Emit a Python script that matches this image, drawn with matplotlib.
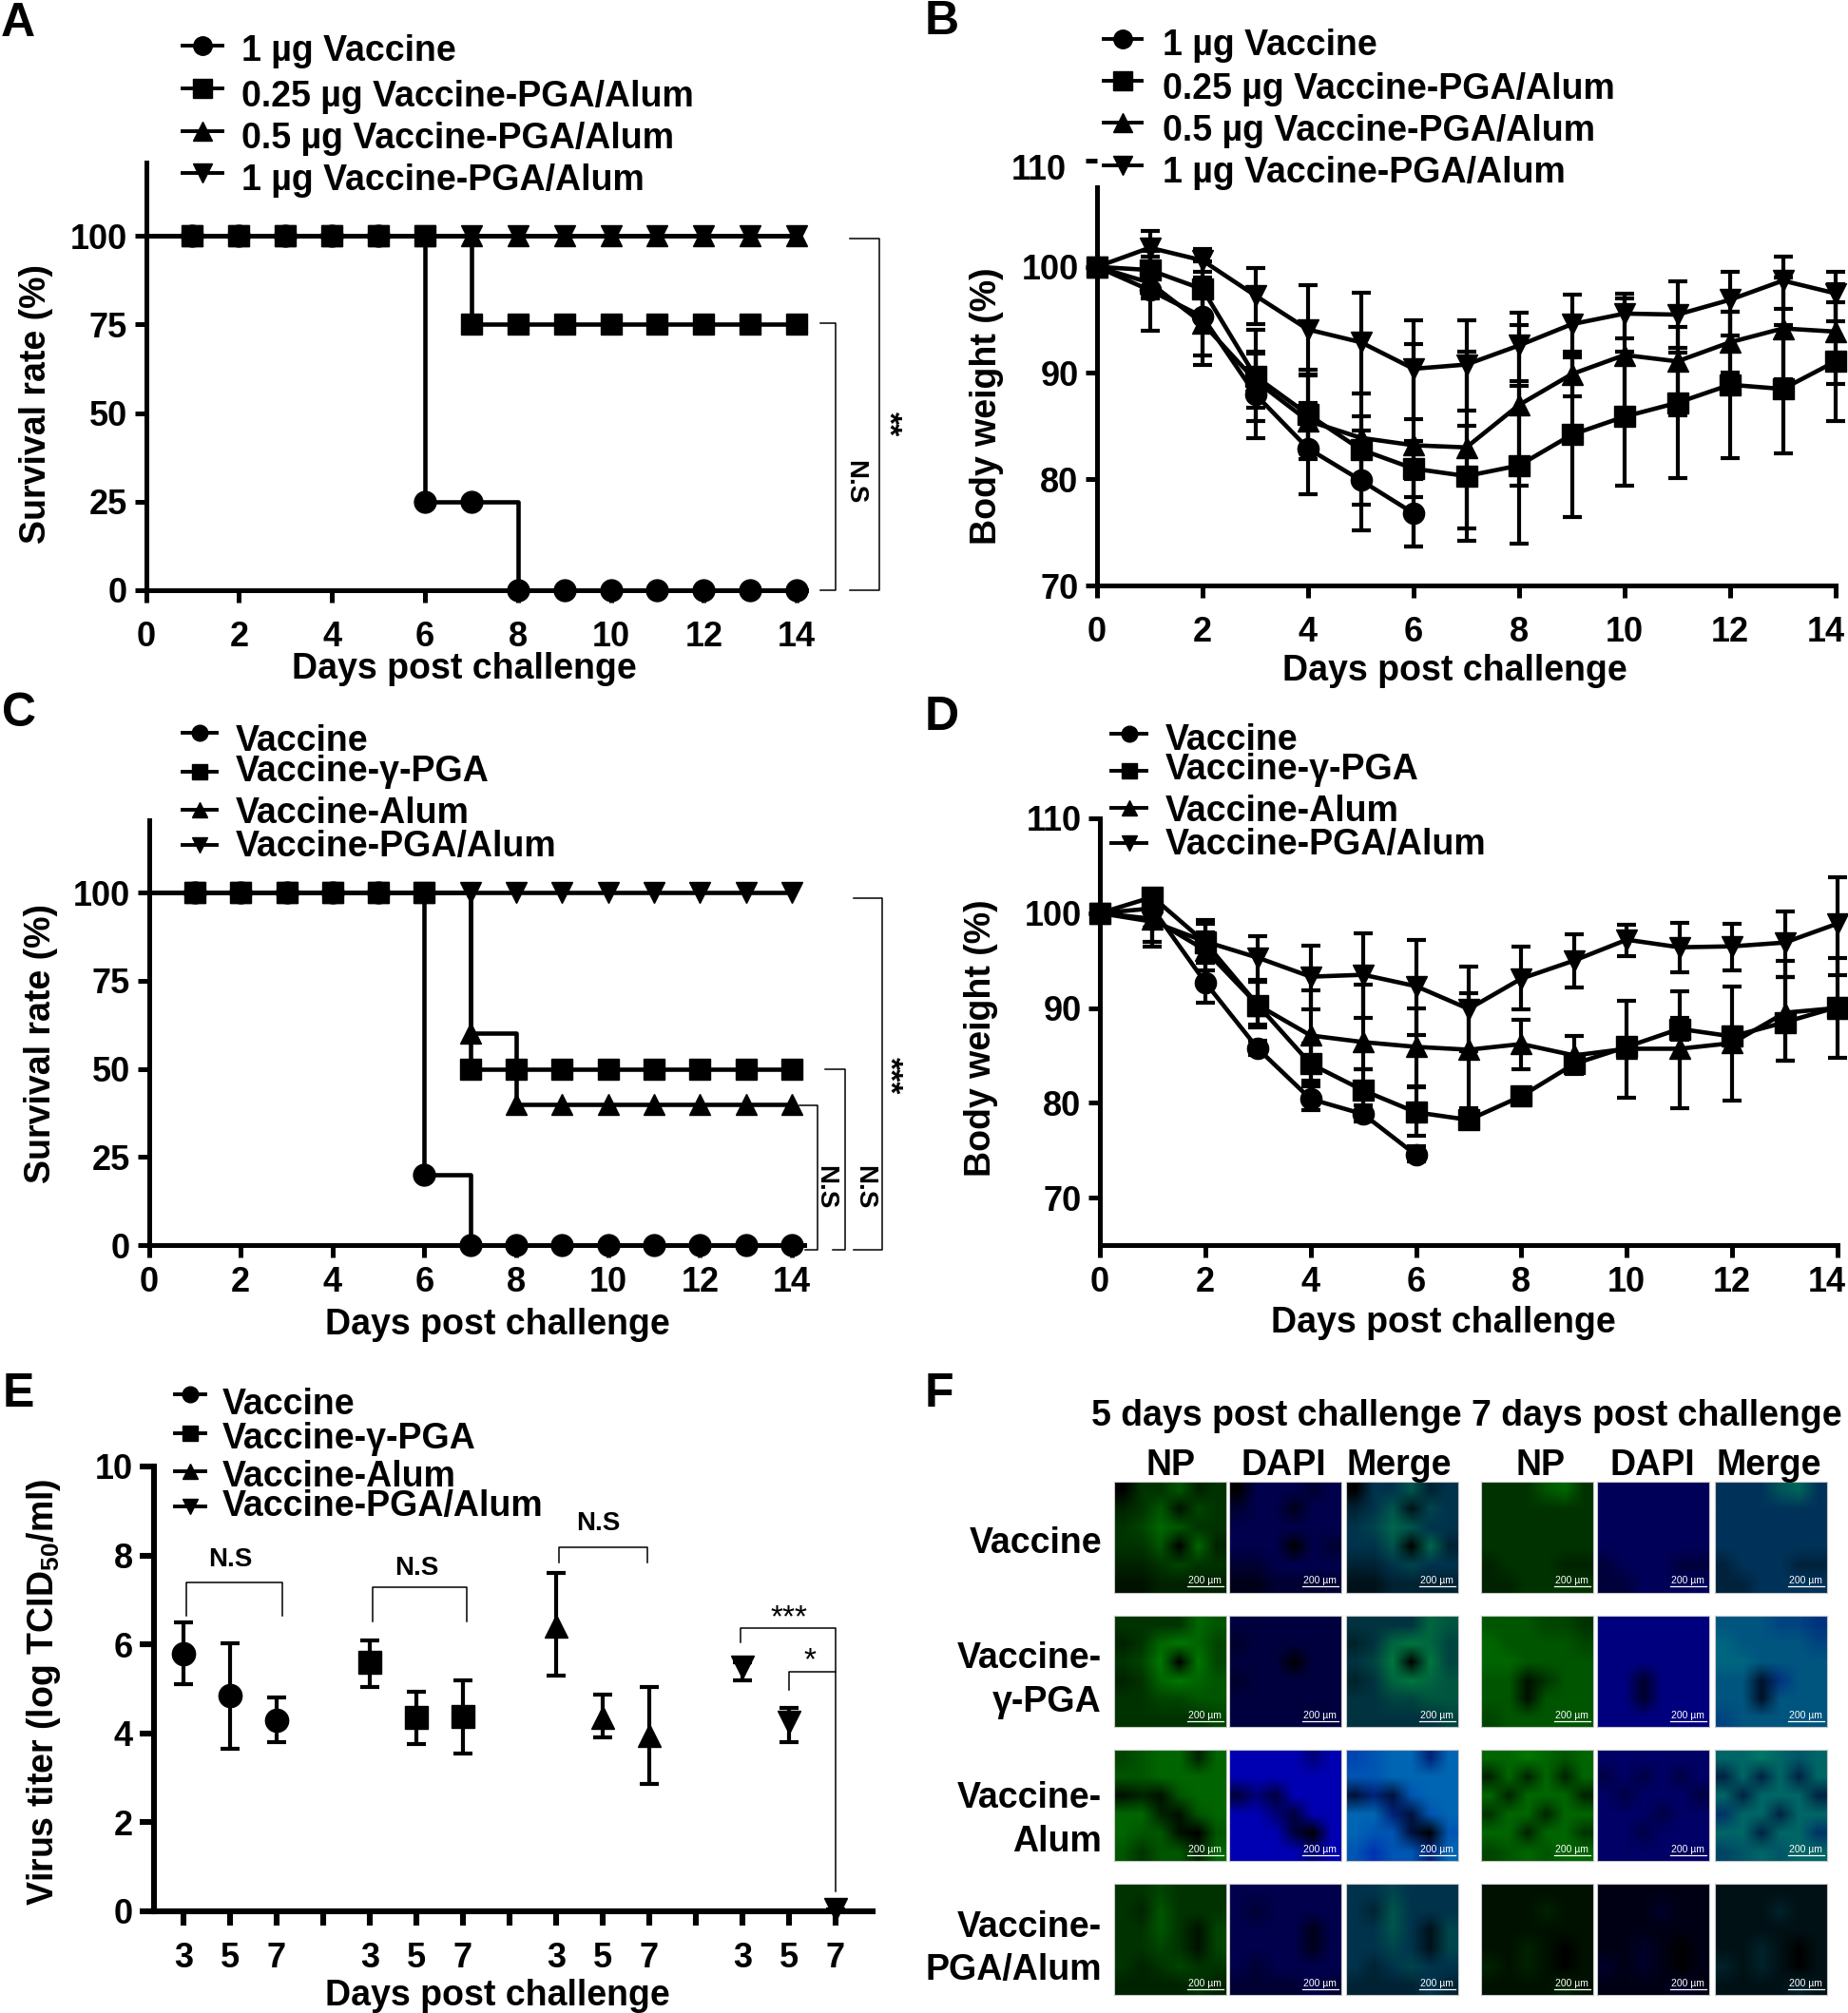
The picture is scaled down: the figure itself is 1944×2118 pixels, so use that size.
import numpy as np
from matplotlib import pyplot as plt
from matplotlib.lines import Line2D
from matplotlib.transforms import ScaledTranslation

plt.rcParams['font.family'] = ['Liberation Sans', 'DejaVu Sans']
plt.rcParams['font.weight'] = 'bold'
plt.rcParams['mathtext.fontset'] = 'custom'
plt.rcParams['mathtext.rm'] = 'Liberation Sans:bold'

W, H = 1944, 2118
DPI = 100

days = list(range(15))
days_short = list(range(7))

# A - survival, dose series
a_labels = ['1 µg Vaccine', '0.25 µg Vaccine-PGA/Alum', '0.5 µg Vaccine-PGA/Alum', '1 µg Vaccine-PGA/Alum']
a_vaccine = [100, 100, 100, 100, 100, 100, 25, 25, 0, 0, 0, 0, 0, 0, 0]
a_low = [100, 100, 100, 100, 100, 100, 100, 75, 75, 75, 75, 75, 75, 75, 75]
a_mid = [100] * 15
a_high = [100] * 15

# B - body weight, dose series
b_vaccine = [100, 97.8, 95.3, 88, 82.9, 79.9, 76.8]
b_vaccine_lo = [100, 94, 90.8, 83.9, 78.6, 75.2, 73.7]
b_vaccine_hi = [100, 101, 99, 92, 87.2, 84.6, 80]
b_low = [100, 99.7, 97.9, 89.7, 86.1, 82.8, 81, 80.3, 81.3, 84.2, 85.9, 87.2, 88.9, 88.5, 91.1]
b_low_lo = [100, 97.9, 95, 85.5, 82.4, 77.6, 78.3, 74.2, 73.9, 76.4, 79.4, 80.1, 82, 82.4, 85.5]
b_low_hi = [100, 101.5, 100.5, 94.1, 89.8, 85.9, 83.6, 85, 88.8, 91.8, 92, 91.9, 95.8, 94.5, 96.7]
b_mid = [100, 98.5, 94.7, 89.3, 85.5, 83.9, 83.2, 83, 87, 89.9, 91.7, 91.1, 92.9, 94.2, 93.9]
b_mid_lo = [100, 97, 91.7, 86.7, 81.9, 79.7, 73.7, 75.4, 79.4, 87.8, 86, 86, 90, 89.4, 89]
b_mid_hi = [100, 100, 97.7, 91.8, 90.3, 88.1, 92.7, 92, 94.5, 92, 97, 94.3, 95.8, 99, 98.4]
b_high = [100, 101.8, 100.6, 97.3, 94.1, 92.9, 90.4, 90.8, 92.6, 94.6, 95.6, 95.5, 96.9, 98.7, 97.5]
b_high_lo = [100, 100, 99.5, 94.6, 89.9, 88.1, 85.7, 86.5, 89.2, 91.5, 93.3, 92.4, 93.5, 96, 94.9]
b_high_hi = [100, 103.4, 101.7, 99.9, 98.3, 97.6, 95, 95, 95.7, 97.4, 97.5, 98.6, 99.5, 101, 99.5]

# C - survival, formulation series
c_labels = ['Vaccine', 'Vaccine-γ-PGA', 'Vaccine-Alum', 'Vaccine-PGA/Alum']
c_vaccine = [100, 100, 100, 100, 100, 100, 20, 0, 0, 0, 0, 0, 0, 0, 0]
c_pga = [100, 100, 100, 100, 100, 100, 100, 50, 50, 50, 50, 50, 50, 50, 50]
c_alum = [100, 100, 100, 100, 100, 100, 100, 60, 40, 40, 40, 40, 40, 40, 40]
c_both = [100] * 15

# D - body weight, formulation series
d_vaccine = [100, 100.5, 92.7, 85.7, 80.4, 78.8, 74.5]
d_vaccine_lo = [100, 96.5, 90.6, 85, 79.2, 78, 73.8]
d_vaccine_hi = [100, 102, 94.8, 86.5, 81.7, 79.7, 75.4]
d_pga = [100, 101.7, 96.9, 90.3, 84.1, 81.3, 79, 78.2, 80.7, 84.1, 85.9, 87.8, 87, 88.5, 90.1]
d_pga_lo = [100, 100.5, 95, 88, 82, 79.2, 76.5, 77.5, 80.2, 83.3, 85.2, 86.6, 86, 84.4, 89]
d_pga_hi = [100, 102.2, 98.9, 92.8, 86.2, 83.5, 81.7, 79.1, 81, 85, 86.5, 89, 88, 93.3, 91]
d_alum = [100, 99.4, 96.1, 90.3, 87.1, 86.4, 85.9, 85.6, 86.2, 85, 85.7, 85.7, 86.3, 89.5, 90]
d_alum_lo = [100, 98.5, 94, 88.3, 82.3, 83.5, 81.6, 79.4, 83.5, 83, 80.5, 79.4, 80.2, 84.4, 84.7]
d_alum_hi = [100, 100.3, 98, 93, 91.9, 92.5, 90, 91.6, 88.8, 87, 90.8, 91.8, 92.3, 95, 95.3]
d_both = [100, 99.1, 97, 95.3, 93.3, 93.5, 92.3, 89.9, 93.1, 95, 97.2, 96.4, 96.5, 96.9, 98.9]
d_both_lo = [100, 97, 94.8, 92.8, 89.9, 89, 87.1, 85.4, 89.9, 92.2, 95.5, 93.8, 94, 93.3, 93.5]
d_both_hi = [100, 101, 99.3, 97.6, 96.6, 97.9, 97.2, 94.4, 96.5, 97.8, 98.8, 99, 98.9, 100.2, 103.8]

# E - virus titer, days 3/5/7 per group
e_slots = [[0, 1, 2], [4, 5, 6], [8, 9, 10], [12, 13, 14]]
e_values = [[5.8, 4.85, 4.3], [5.6, 4.35, 4.37], [6.4, 4.35, 3.95], [5.5, 4.25, 0.05]]
e_lower = [[5.1, 3.65, 3.8], [5.05, 3.77, 3.55], [5.3, 3.9, 2.87], [5.2, 3.8, 0.05]]
e_upper = [[6.5, 6.03, 4.8], [6.1, 4.93, 5.2], [7.6, 4.88, 5.05], [5.6, 4.57, 0.05]]
e_ticklabels = ['3', '5', '7', '', '3', '5', '7', '', '3', '5', '7', '', '3', '5', '7']

# F - micrographs can't be re-read as data, so coarse green brightness by hand (0-9) and blue level
f_rows = ['Vaccine', 'Vaccine-\nγ-PGA', 'Vaccine-\nAlum', 'Vaccine-\nPGA/Alum']
f_channels = ['NP', 'DAPI', 'Merge']
f_green = {
    (0, 0): [[0, 3, 3, 5, 2, 3], [2, 3, 5, 1, 4, 3], [3, 4, 6, 5, 3, 3], [3, 3, 5, 0, 6, 2], [2, 2, 3, 4, 3, 3], [1, 1, 2, 2, 2, 2]],
    (0, 1): [[3, 3, 3, 5, 6, 3], [3, 3, 3, 3, 3, 3], [3, 3, 3, 3, 3, 3], [3, 3, 3, 3, 3, 3], [2, 3, 3, 3, 2, 2], [2, 2, 3, 3, 3, 3]],
    (1, 0): [[3, 3, 3, 3, 6, 5], [2, 3, 6, 7, 6, 4], [3, 4, 7, 0, 7, 4], [2, 3, 6, 7, 6, 5], [3, 3, 4, 4, 5, 5], [3, 3, 3, 3, 3, 4]],
    (1, 1): [[5, 5, 5, 4, 4, 3], [6, 5, 5, 5, 5, 4], [6, 6, 5, 5, 5, 5], [5, 5, 1, 3, 5, 5], [5, 5, 1, 5, 5, 5], [4, 5, 5, 5, 5, 5]],
    (2, 0): [[4, 5, 6, 6, 2, 6], [5, 5, 6, 6, 6, 6], [1, 2, 1, 5, 6, 6], [6, 6, 2, 1, 5, 6], [6, 5, 5, 1, 0, 5], [5, 3, 5, 5, 2, 6]],
    (2, 1): [[6, 6, 7, 6, 5, 6], [2, 6, 2, 6, 2, 6], [6, 2, 6, 6, 6, 2], [3, 6, 6, 2, 6, 6], [6, 6, 2, 6, 6, 3], [4, 5, 6, 5, 6, 6]],
    (3, 0): [[3, 3, 4, 3, 3, 3], [3, 2, 5, 3, 3, 3], [3, 3, 5, 3, 1, 4], [3, 3, 4, 3, 1, 4], [3, 2, 3, 4, 3, 3], [2, 2, 2, 2, 3, 2]],
    (3, 1): [[1, 1, 1, 1, 1, 1], [1, 1, 1, 2, 1, 1], [1, 1, 1, 1, 1, 1], [1, 1, 2, 1, 0, 1], [2, 1, 2, 1, 0, 1], [1, 1, 1, 1, 2, 1]],
}
f_blue = {(0, 0): 0.3, (0, 1): 0.35, (1, 0): 0.25, (1, 1): 0.5, (2, 0): 0.7, (2, 1): 0.4, (3, 0): 0.3, (3, 1): 0.25}

fig = plt.figure(figsize=(W / DPI, H / DPI), dpi=DPI)


def px_axes(left, top, right, bottom):
    return fig.add_axes([left / W, 1 - bottom / H, (right - left) / W, (bottom - top) / H])


def px_text(x, y, s, size=27, ha='left', rotation=0, weight='bold', color='black'):
    # va=center counts the descender, nudge horizontal text down a bit
    if rotation == 0 and size < 30:
        y = y + 3.5
    fig.text(x / W, 1 - y / H, s, fontsize=size, ha=ha, va='center', rotation=rotation,
             fontweight=weight, color=color)


def legend_rows(handle_x0, handle_x1, handle_ys, text_x, text_ys, labels, ms=14, size=27):
    markers = ['o', 's', '^', 'v']
    for hy, ty, label, m in zip(handle_ys, text_ys, labels, markers):
        fig.add_artist(Line2D([handle_x0 / W, handle_x1 / W], [1 - hy / H, 1 - hy / H], color='black', lw=2.8))
        fig.add_artist(Line2D([(handle_x0 + handle_x1) / 2 / W], [1 - hy / H], color='black', marker=m, ms=ms))
        px_text(text_x, ty, label, size=size)


def style_axes(ax, pad, length=9, width=3.6):
    ax.spines['top'].set_visible(False)
    ax.spines['right'].set_visible(False)
    ax.spines['left'].set_linewidth(width)
    ax.spines['bottom'].set_linewidth(width)
    ax.tick_params(axis='both', length=length, width=width, labelsize=26)
    ax.tick_params(axis='x', pad=pad)
    ax.tick_params(axis='y', pad=5)
    ax.patch.set_alpha(0)


def survival_line(ax, values, marker, ms=16.5):
    ax.plot(days, values, color='black', lw=3.3, drawstyle='steps-post', marker=marker, ms=ms,
            markevery=slice(1, None), clip_on=False)


def weight_line(ax, x, values, lower, upper, marker, ms=16):
    values = np.array(values)
    yerr = [values - np.array(lower), np.array(upper) - values]
    ax.errorbar(x, values, yerr=yerr, color='black', lw=3.3, marker=marker, ms=ms,
                elinewidth=3, capsize=7.5, capthick=3, clip_on=False)


def bracket(ax, xs, ys):
    ax.plot(xs, ys, color='black', lw=1.1, clip_on=False)


def shift_last_xlabel(ax, points):
    # the last day label sits left of its tick, otherwise it runs off the page
    fig.canvas.draw()
    lab = ax.get_xticklabels()[-1]
    lab.set_transform(lab.get_transform() + ScaledTranslation(-points / 72, 0, fig.dpi_scale_trans))


# A
ax = px_axes(153.5, 171, 848, 621)
style_axes(ax, pad=14)
survival_line(ax, a_vaccine, 'o')
survival_line(ax, a_mid, '^')
survival_line(ax, a_high, 'v')
survival_line(ax, a_low, 's')
ax.set_xlim(0, 14.2)
ax.set_ylim(0, 120.7)
ax.set_xticks(range(0, 15, 2))
ax.set_yticks([0, 25, 50, 75, 100])
bracket(ax, [15.15, 15.77, 15.77, 15.15], [99.3, 99.3, 0, 0])
bracket(ax, [14.5, 14.83, 14.83, 14.5], [75.5, 75.5, 0, 0])
ax.text(15.24, 30.6, 'N.S', rotation=-90, ha='center', va='center', fontsize=20)
ax.text(15.95, 47, '**', rotation=-90, ha='center', va='center', fontsize=24)
legend_rows(192, 234, [48, 93, 138, 182], 254, [50, 98, 143, 187], a_labels)
px_text(488, 700, 'Days post challenge', ha='center')
px_text(38, 425, 'Survival rate (%)', ha='center', rotation=90)
px_text(1, 25, 'A', size=36)

# B
ax = px_axes(1154, 169, 1931, 616)
style_axes(ax, pad=14)
ax.spines['left'].set_bounds(70, 107.5)
weight_line(ax, days_short, b_vaccine, b_vaccine_lo, b_vaccine_hi, 'o')
weight_line(ax, days, b_low, b_low_lo, b_low_hi, 's')
weight_line(ax, days, b_mid, b_mid_lo, b_mid_hi, '^')
weight_line(ax, days, b_high, b_high_lo, b_high_hi, 'v')
ax.set_xlim(0, 14)
ax.set_ylim(70, 110)
ax.set_xticks(range(0, 15, 2))
ax.set_yticks([70, 80, 90, 100, 110])
ax.set_yticklabels(['70', '80', '90', '100', ''])
shift_last_xlabel(ax, 7)
px_text(1122, 176, '110', ha='right', size=26)
legend_rows(1161, 1201, [41, 85, 128.5, 173.5], 1223, [44, 90, 135, 179], a_labels)
px_text(1530, 702, 'Days post challenge', ha='center')
px_text(1038, 427, 'Body weight (%)', ha='center', rotation=90)
px_text(973, 23, 'B', size=36)

# C
ax = px_axes(156.6, 863, 846, 1310)
style_axes(ax, pad=7)
survival_line(ax, c_vaccine, 'o')
survival_line(ax, c_both, 'v')
survival_line(ax, c_alum, '^')
survival_line(ax, c_pga, 's')
ax.set_xlim(0, 14.27)
ax.set_ylim(0, 120.5)
ax.set_xticks(range(0, 15, 2))
ax.set_yticks([0, 25, 50, 75, 100])
bracket(ax, [15.34, 15.96, 15.96, 15.34], [98.4, 98.4, -1.3, -1.3])
bracket(ax, [14.73, 15.15, 15.15, 14.9], [50, 50, -1.3, -1.3])
bracket(ax, [14.17, 14.55, 14.55, 14.3], [39.7, 39.7, -1.3, -1.3])
ax.text(14.72, 16.4, 'N.S', rotation=-90, ha='center', va='center', fontsize=20)
ax.text(15.58, 16.4, 'N.S', rotation=-90, ha='center', va='center', fontsize=20)
ax.text(16.1, 48, '***', rotation=-90, ha='center', va='center', fontsize=24)
legend_rows(192, 228, [771, 811.5, 852, 889], 247.5, [777, 808, 852, 887], c_labels, ms=12)
px_text(523, 1390, 'Days post challenge', ha='center')
px_text(43, 1098, 'Survival rate (%)', ha='center', rotation=90)
px_text(2, 751, 'C', size=36)

# D
ax = px_axes(1157, 861, 1933, 1310)
style_axes(ax, pad=7)
weight_line(ax, days_short, d_vaccine, d_vaccine_lo, d_vaccine_hi, 'o')
weight_line(ax, days, d_alum, d_alum_lo, d_alum_hi, '^')
weight_line(ax, days, d_both, d_both_lo, d_both_hi, 'v')
weight_line(ax, days, d_pga, d_pga_lo, d_pga_hi, 's')
ax.set_xlim(0, 14)
ax.set_ylim(65, 110)
ax.set_xticks(range(0, 15, 2))
ax.set_yticks([70, 80, 90, 100, 110])
shift_last_xlabel(ax, 8)
legend_rows(1169, 1206, [772, 811, 850, 887], 1226, [775.5, 806, 850.5, 886], c_labels, ms=12)
px_text(1518, 1388, 'Days post challenge', ha='center')
px_text(1032, 1092, 'Body weight (%)', ha='center', rotation=90)
px_text(973, 755, 'D', size=36)

# E
ax = px_axes(162, 1543, 918, 2011)
style_axes(ax, pad=12, length=11, width=4.4)
for slots, vals, lo, hi, m in zip(e_slots, e_values, e_lower, e_upper, ['o', 's', '^', 'v']):
    vals = np.array(vals)
    yerr = [vals - np.array(lo), np.array(hi) - vals]
    ax.errorbar(slots, vals, yerr=yerr, color='black', ls='none', marker=m, ms=17.5, elinewidth=3,
                capsize=7, capthick=3, clip_on=False)
ax.set_xlim(-0.63, 14.8)
ax.set_ylim(0, 10)
ax.set_xticks(range(15))
ax.set_xticklabels(e_ticklabels)
ax.set_yticks([0, 2, 4, 6, 8, 10])
bracket(ax, [0.06, 0.06, 2.12, 2.12], [6.65, 7.4, 7.4, 6.65])
bracket(ax, [4.06, 4.06, 6.09, 6.09], [6.51, 7.28, 7.28, 6.51])
bracket(ax, [8.06, 8.06, 9.96, 9.96], [7.85, 8.18, 8.18, 7.85])
bracket(ax, [11.97, 11.97, 14, 14], [6.05, 6.37, 6.37, 0.44])
bracket(ax, [13, 13, 14], [4.97, 5.39, 5.39])
ax.text(1.0, 7.63, 'N.S', ha='center', va='bottom', fontsize=20)
ax.text(5.0, 7.43, 'N.S', ha='center', va='bottom', fontsize=20)
ax.text(8.9, 8.43, 'N.S', ha='center', va='bottom', fontsize=20)
ax.text(13, 6.25, '***', ha='center', va='bottom', fontsize=24, fontweight='normal')
ax.text(13.45, 5.3, '*', ha='center', va='bottom', fontsize=24, fontweight='normal')
legend_rows(184, 216, [1467, 1508, 1548, 1585], 234, [1474, 1510, 1550, 1582], c_labels, ms=12)
px_text(523.6, 2097, 'Days post challenge', ha='center')
px_text(46, 1780, r'Virus titer (log TCID$_{\mathregular{50}}$/ml)', ha='center', rotation=90)
px_text(3, 1467, 'E', size=36)

# F
col_edges = [(1172, 1290), (1293, 1411), (1416, 1534), (1558, 1676), (1680, 1798), (1804, 1922)]
row_edges = [(1558.6, 1675.7), (1700, 1817), (1841, 1958), (1981.6, 2099)]
for r, (top, bottom) in enumerate(row_edges):
    for c, (left, right) in enumerate(col_edges):
        t = c // 3
        channel = c % 3
        green = np.array(f_green[(r, t)]) / 9 * 0.6
        tissue = np.clip(np.array(f_green[(r, t)]) / 3, 0, 1)
        blue = tissue * f_blue[(r, t)]
        rgb = np.zeros(green.shape + (3,))
        if channel != 1:
            rgb[..., 1] = green
        if channel != 0:
            rgb[..., 2] = blue
        ax = px_axes(left, top, right, bottom)
        ax.imshow(rgb, aspect='auto', interpolation='bilinear', extent=[0, 1, 0, 1])
        ax.set_xticks([])
        ax.set_yticks([])
        for sp in ax.spines.values():
            sp.set_edgecolor('#c8c8c8')
            sp.set_linewidth(0.8)
        ax.plot([0.654, 0.972], [0.055, 0.055], color='white', lw=0.9)
        ax.text(0.81, 0.105, '200 µm', color='white', fontsize=7.5, fontweight='normal', ha='center', va='center')
        ax.set_xlim(0, 1)
        ax.set_ylim(0, 1)

px_text(1343, 1487, '5 days post challenge', ha='center')
px_text(1743, 1487, '7 days post challenge', ha='center')
for x, label in zip([1231, 1350, 1472, 1620, 1738, 1861], f_channels * 2):
    px_text(x, 1538, label, ha='center')
row_label_ys = [[1621], [1741.5, 1787.6], [1889, 1935], [2024, 2069]]
for label, ys in zip(f_rows, row_label_ys):
    for line, y in zip(label.split('\n'), ys):
        px_text(1159, y, line, ha='right')
px_text(973, 1467, 'F', size=36)

fig.savefig('out.png', dpi=DPI)
